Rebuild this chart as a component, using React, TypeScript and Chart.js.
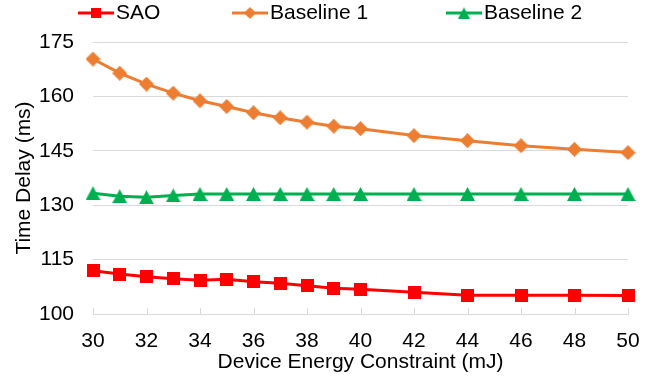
import React, { useEffect, useRef } from 'react';
import { Chart, registerables } from 'chart.js';

Chart.register(...registerables);

// ---- Data ----
const energyConstraint = [30, 31, 32, 33, 34, 35, 36, 37, 38, 39, 40, 42, 44, 46, 48, 50];
const saoDelay = [111.9, 111.0, 110.3, 109.7, 109.3, 109.6, 108.9, 108.5, 107.8, 107.1, 106.8, 106.0, 105.2, 105.2, 105.2, 105.1];
const baseline1Delay = [170.3, 166.4, 163.4, 160.9, 158.8, 157.2, 155.5, 154.1, 152.9, 151.8, 151.1, 149.2, 147.8, 146.4, 145.4, 144.5];
const baseline2Delay = [133.3, 132.5, 132.2, 132.7, 133.1, 133.1, 133.1, 133.1, 133.1, 133.1, 133.1, 133.1, 133.1, 133.1, 133.1, 133.1];
const seriesNames = ['SAO', 'Baseline 1', 'Baseline 2'];
const xTickValues = [30, 32, 34, 36, 38, 40, 42, 44, 46, 48, 50];
const yTickValues = [100, 115, 130, 145, 160, 175];
const xTitle = 'Device Energy Constraint (mJ)';
const yTitle = 'Time Delay (ms)';

const FONT = '"Liberation Sans", Arial, Helvetica, sans-serif';
const COLORS = ['#FF0000', '#ED7D31', '#00B050'];
const GRID = '#D9D9D9';

function makeCanvas(w: number, h: number) {
  const c = document.createElement('canvas');
  c.width = w;
  c.height = h;
  return c;
}

function makeSquare(color: string) {
  const c = makeCanvas(13, 13);
  const ctx = c.getContext('2d')!;
  ctx.fillStyle = color;
  ctx.fillRect(0, 0, 13, 13);
  return c;
}

function makeDiamond(color: string) {
  const c = makeCanvas(15, 15);
  const ctx = c.getContext('2d')!;
  ctx.fillStyle = color;
  ctx.beginPath();
  ctx.moveTo(7.5, 0);
  ctx.lineTo(15, 7.5);
  ctx.lineTo(7.5, 15);
  ctx.lineTo(0, 7.5);
  ctx.closePath();
  ctx.fill();
  return c;
}

function makeTriangle(color: string) {
  const c = makeCanvas(15, 14);
  const ctx = c.getContext('2d')!;
  ctx.fillStyle = color;
  ctx.beginPath();
  ctx.moveTo(7.5, 0);
  ctx.lineTo(15, 14);
  ctx.lineTo(0, 14);
  ctx.closePath();
  ctx.fill();
  return c;
}

export default function App() {
  const ref = useRef<HTMLCanvasElement>(null);

  useEffect(() => {
    const canvas = ref.current;
    if (!canvas) return;
    const markers = [makeSquare(COLORS[0]), makeDiamond(COLORS[1]), makeTriangle(COLORS[2])];
    const seriesValues = [saoDelay, baseline1Delay, baseline2Delay];

    const legendPlugin = {
      id: 'customLegend',
      afterDraw(chart: any) {
        const ctx = chart.ctx as CanvasRenderingContext2D;
        const starts = [78, 232, 446];
        const y = 13;
        ctx.save();
        ctx.font = `21px ${FONT}`;
        ctx.textBaseline = 'middle';
        ctx.textAlign = 'left';
        chart.data.datasets.forEach((ds: any, i: number) => {
          const x0 = starts[i];
          ctx.strokeStyle = ds.borderColor;
          ctx.lineWidth = 3;
          ctx.beginPath();
          ctx.moveTo(x0, y);
          ctx.lineTo(x0 + 36, y);
          ctx.stroke();
          const img = ds.pointStyle as HTMLCanvasElement;
          const w = img.width * 0.8;
          const h = img.height * 0.8;
          ctx.drawImage(img, x0 + 18 - w / 2, y - h / 2, w, h);
          ctx.fillStyle = '#000';
          ctx.fillText(ds.label, x0 + 38, y);
        });
        ctx.restore();
      },
    };

    const innerTicksPlugin = {
      id: 'xInnerTicks',
      beforeDatasetsDraw(chart: any) {
        const xs = chart.scales.x;
        const ctx = chart.ctx as CanvasRenderingContext2D;
        const bottom = chart.chartArea.bottom;
        ctx.save();
        ctx.strokeStyle = GRID;
        ctx.lineWidth = 1;
        xs.ticks.forEach((t: any) => {
          const px = Math.round(xs.getPixelForValue(t.value)) + 0.5;
          ctx.beginPath();
          ctx.moveTo(px, bottom);
          ctx.lineTo(px, bottom - 6);
          ctx.stroke();
        });
        ctx.restore();
      },
    };

    const chart = new Chart(canvas, {
      type: 'line',
      data: {
        datasets: seriesNames.map((name, i) => ({
          label: name,
          data: energyConstraint.map((x, j) => ({ x, y: seriesValues[i][j] })),
          borderColor: COLORS[i],
          backgroundColor: COLORS[i],
          borderWidth: 3,
          pointStyle: markers[i],
          pointRadius: 7,
          pointHoverRadius: 7,
          tension: 0,
          fill: false,
          clip: false,
        })),
      },
      options: {
        animation: false,
        responsive: true,
        maintainAspectRatio: false,
        devicePixelRatio: 1,
        layout: { padding: { top: 42, right: 39, bottom: 0, left: 0 } },
        plugins: {
          legend: { display: false },
          tooltip: { enabled: false },
        },
        scales: {
          x: {
            type: 'linear',
            min: 30,
            max: 50,
            afterBuildTicks: (s: any) => {
              s.ticks = xTickValues.map((v) => ({ value: v }));
            },
            afterFit: (s: any) => {
              s.height = 62;
            },
            grid: { drawOnChartArea: false, drawTicks: false },
            border: { display: true, color: GRID, width: 1 },
            ticks: {
              padding: 15,
              color: '#000',
              font: { family: FONT, size: 21 },
              maxRotation: 0,
              autoSkip: false,
            },
            title: {
              display: true,
              text: xTitle,
              color: '#000',
              font: { family: FONT, size: 21 },
              padding: { top: 0, bottom: 1 },
            },
          },
          y: {
            type: 'linear',
            min: 100,
            max: 175,
            afterBuildTicks: (s: any) => {
              s.ticks = yTickValues.map((v) => ({ value: v }));
            },
            afterFit: (s: any) => {
              s.width = 93;
            },
            grid: { color: GRID, lineWidth: 1, drawTicks: false },
            border: { display: false },
            ticks: {
              padding: 19,
              color: '#000',
              font: { family: FONT, size: 21 },
              autoSkip: false,
            },
            title: {
              display: true,
              text: yTitle,
              color: '#000',
              font: { family: FONT, size: 21 },
              padding: { top: 12, bottom: 0 },
            },
          },
        },
      },
      plugins: [innerTicksPlugin, legendPlugin],
    });

    return () => {
      chart.destroy();
    };
  }, []);

  return (
    <div style={{ position: 'absolute', left: 0, top: 0, width: 667, height: 376 }}>
      <canvas ref={ref} />
    </div>
  );
}
